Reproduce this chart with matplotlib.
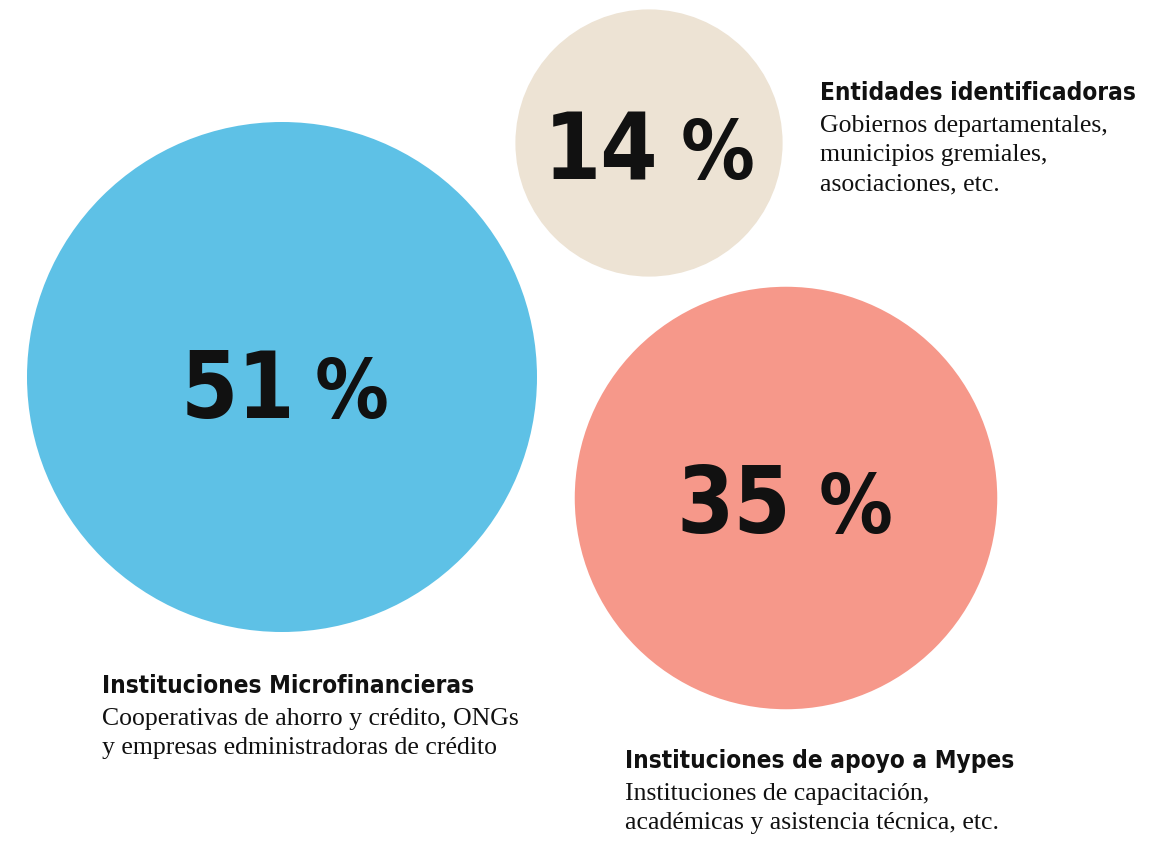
import matplotlib
matplotlib.use("Agg")
import matplotlib.pyplot as plt
from matplotlib.patches import Circle
from matplotlib import font_manager as fm
import numpy as np

values = [51, 14, 35]
num_labels = ["51", "14", "35"]
titles = ["Instituciones Microfinancieras", "Entidades identificadoras", "Instituciones de apoyo a Mypes"]
subtitles = [
    "Cooperativas de ahorro y crédito, ONGs\ny empresas edministradoras de crédito",
    "Gobiernos departamentales,\nmunicipios gremiales,\nasociaciones, etc.",
    "Instituciones de capacitación,\nacadémicas y asistencia técnica, etc.",
]
colors = ["#5EC1E6", "#EDE3D4", "#F6988A"]


def find_condensed_bold():
    best = None
    for f in fm.fontManager.ttflist:
        st = str(f.stretch).lower()
        nm = f.name.lower()
        is_cond = ("condensed" in st or "narrow" in nm or "condensed" in nm
                   or (isinstance(f.stretch, (int, float)) and f.stretch < 500))
        if not is_cond or f.style != "normal":
            continue
        w = f.weight
        try:
            w = int(w)
        except Exception:
            w = 700 if "bold" in str(w).lower() else 400
        score = abs(w - 700)
        if "ultra" in st or "extra" in st:
            score += 50
        if best is None or score < best[0]:
            best = (score, f)
    return best[1] if best else None


cf = find_condensed_bold()
if cf is not None:
    head_fp = dict(fontproperties=fm.FontProperties(fname=cf.fname))
else:
    head_fp = dict(family="Roboto", fontweight="bold")
serif = "Liberation Serif"

W, H = 1167, 842
fig = plt.figure(figsize=(W / 100, H / 100), dpi=100)
ax = fig.add_axes([0, 0, 1, 1])
ax.set_xlim(0, W)
ax.set_ylim(H, 0)
ax.set_aspect("equal")
ax.axis("off")

k = 255 / np.sqrt(51)
centers = [(282, 377), (649, 143), (786, 498)]
num_right = [13, 9, 5]
pct_left = [33, 32, 33]
base_off = [41, 36, 35]
text_pos = [(102, 686), (820, 93), (625, 761)]

for i, v in enumerate(values):
    c = centers[i]
    r = k * np.sqrt(v)
    ax.add_patch(Circle(c, r, facecolor=colors[i], edgecolor="none"))
    ax.text(c[0] + num_right[i], c[1] + base_off[i], num_labels[i], ha="right", va="baseline",
            fontsize=66, color="#111111", **head_fp)
    ax.text(c[0] + pct_left[i], c[1] + base_off[i], "%", ha="left", va="baseline",
            fontsize=59, color="#111111", **head_fp)
    tx, ty = text_pos[i]
    ax.text(tx, ty, titles[i], ha="left", va="center", fontsize=17.5,
            color="#111111", **head_fp)
    ax.text(tx, ty + 22, subtitles[i], ha="left", va="top", fontsize=18.5, family=serif,
            color="#111111", linespacing=1.42)

fig.savefig("out.png", dpi=100, facecolor="white")
